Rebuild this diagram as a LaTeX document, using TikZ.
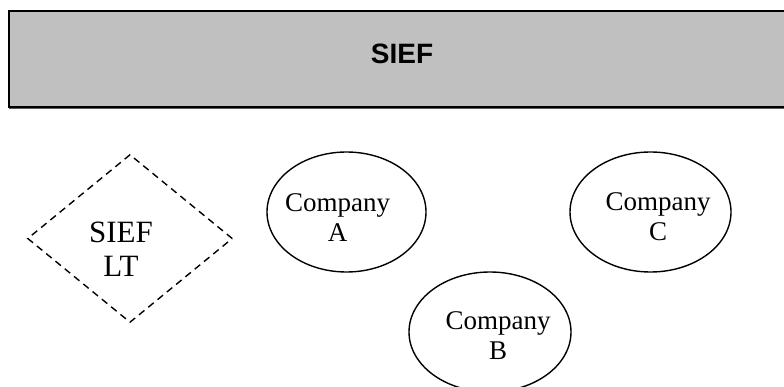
\documentclass[tikz,border=0pt]{standalone}
\usepackage{fontspec}
\setmainfont{Liberation Serif}
\newfontfamily\headfont{Liberation Sans}
\usetikzlibrary{shapes.geometric}
\definecolor{bannergray}{RGB}{192,192,192}
\definecolor{shadegray}{RGB}{90,90,90}
\begin{document}
\begin{tikzpicture}[x=1pt,y=-1pt,
  banner/.style={draw=black, fill=bannergray, line width=2pt},
  leadbox/.style={diamond, draw=black, dashed, dash pattern=on 7pt off 5pt, line width=1.4pt,
                  minimum width=205pt, minimum height=168pt, inner sep=0pt},
  member/.style={ellipse, draw=black, line width=1.4pt, inner sep=0pt},
  memberlabel/.style={align=center, inner sep=0pt, font=\fontsize{27}{30}\selectfont},
  leadlabel/.style={align=center, inner sep=0pt, font=\fontsize{31}{34}\selectfont}]
  \useasboundingbox (0,0) rectangle (784,387);
  \clip (0,0) rectangle (784,387);

  % forum banner across the top
  \draw[shadegray, line width=1.2pt] (9,108.5) -- (800,108.5);
  \node[banner, minimum width=792pt, minimum height=96pt, anchor=north west] (sief) at (8,10) {};
  \node[font=\headfont\bfseries\fontsize{28}{30}\selectfont, inner sep=0pt] (sieftext) at (402,54) {SIEF};

  % lead registrant
  \node[leadbox] (lt) at (130,238.5) {};
  \node[leadlabel] (lttext) at (121,249.5) {SIEF\\LT};

  % member companies
  \node[member, minimum width=159pt, minimum height=120pt] (ca) at (346.5,212) {};
  \node[memberlabel] (catext) at (337.5,217.5) {Company\\A};

  \node[member, minimum width=161pt, minimum height=120pt] (cc) at (650.5,212) {};
  \node[memberlabel] (cctext) at (658,216.5) {Company\\C};

  \node[member, minimum width=162pt, minimum height=120pt] (cb) at (490,332) {};
  \node[memberlabel] (cbtext) at (498,336) {Company\\B};
\end{tikzpicture}
\end{document}
